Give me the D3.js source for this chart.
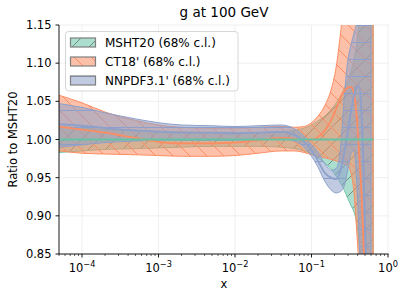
<!DOCTYPE html>
<html>
<head>
<meta charset="utf-8">
<script src="https://cdn.jsdelivr.net/npm/d3@7/dist/d3.min.js"></script>
<style>
	body { margin: 0; background: #fff; }
	svg { display: block; font-family: "DejaVu Sans", sans-serif; }
</style>
</head>
<body>
<div id="chart"></div>
<script>
// x grid shared by all three sets (momentum fraction)
const xs = [5e-5, 1e-4, 2e-4, 5e-4, 1e-3, 2e-3, 5e-3, 1e-2, 2e-2, 4e-2, 6e-2, 8e-2,
	0.10, 0.12, 0.15, 0.18, 0.21, 0.24, 0.27, 0.30, 0.33, 0.36, 0.39, 0.42, 0.45, 0.48, 0.51, 0.55, 0.60, 0.64];

// MSHT20 (reference, so central is 1)
const mshtMid = [1, 1, 1, 1, 1, 1, 1, 1, 1, 1, 1, 1, 1, 1, 1, 1, 1, 1, 1, 1, 1, 1, 1, 1, 1, 1, 1, 1, 1, 1];
const mshtLow = [0.983, 0.985, 0.987, 0.988, 0.989, 0.990, 0.991, 0.991, 0.991, 0.990, 0.988, 0.985,
	0.981, 0.976, 0.969, 0.961, 0.952, 0.943, 0.933, 0.922, 0.913, 0.905, 0.890, 0.860, 0.81, 0.76, 0.70, 0.62, 0.50, 0.40];
const mshtHigh = [1.017, 1.015, 1.013, 1.012, 1.011, 1.010, 1.009, 1.009, 1.009, 1.010, 1.012, 1.015,
	1.019, 1.024, 1.031, 1.039, 1.048, 1.057, 1.067, 1.078, 1.090, 1.105, 1.125, 1.155, 1.20, 1.25, 1.30, 1.40, 1.50, 1.60];

// CT18'
const ctMid = [1.017, 1.013, 1.009, 1.002, 0.997, 0.995, 0.995, 0.996, 0.999, 1.002, 1.001, 0.999,
	0.999, 1.003, 1.012, 1.025, 1.040, 1.055, 1.064, 1.068, 1.069, 1.060, 1.030, 0.980, 0.930, 0.860, 0.800, 0.720, 0.620, 0.550];
const ctLow = [0.985, 0.982, 0.981, 0.980, 0.979, 0.978, 0.978, 0.979, 0.982, 0.985, 0.985, 0.983,
	0.980, 0.978, 0.976, 0.974, 0.972, 0.970, 0.968, 0.965, 0.955, 0.930, 0.880, 0.830, 0.78, 0.72, 0.66, 0.58, 0.48, 0.40];
const ctHigh = [1.058, 1.048, 1.036, 1.025, 1.019, 1.016, 1.015, 1.015, 1.016, 1.017, 1.016, 1.017,
	1.022, 1.030, 1.045, 1.065, 1.095, 1.140, 1.190, 1.250, 1.320, 1.400, 1.500, 1.600, 1.700, 1.800, 1.900, 2.000, 2.100, 2.200];

// NNPDF3.1' (stops a bit earlier)
const nnMid = [1.020, 1.018, 1.015, 1.012, 1.010, 1.009, 1.009, 1.008, 1.009, 1.010, 1.006, 0.997,
	0.986, 0.973, 0.956, 0.950, 0.948, 0.960, 0.985, 1.012, 1.038, 1.058, 1.068, 1.070, 1.035, 0.960, 0.860, 0.740, 0.620, null];
const nnLow = [0.990, 0.993, 0.996, 0.998, 0.999, 0.999, 0.999, 0.999, 1.000, 1.001, 0.998, 0.990,
	0.978, 0.965, 0.945, 0.934, 0.930, 0.932, 0.940, 0.962, 0.982, 0.985, 0.945, 0.870, 0.780, 0.680, 0.580, 0.480, 0.400, null];
const nnHigh = [1.047, 1.042, 1.035, 1.027, 1.022, 1.019, 1.018, 1.017, 1.018, 1.019, 1.014, 1.004,
	0.993, 0.984, 0.968, 0.960, 0.962, 0.990, 1.060, 1.105, 1.125, 1.140, 1.155, 1.240, 1.320, 1.400, 1.480, 1.560, 1.650, null];

const yTicks = [0.85, 0.90, 0.95, 1.00, 1.05, 1.10, 1.15];
const xTicks = [1e-4, 1e-3, 1e-2, 1e-1, 1];
const xTickExp = ['\u22124', '\u22123', '\u22122', '\u22121', '0'];
const legendLabels = ["MSHT20 (68% c.l.)", "CT18' (68% c.l.)", "NNPDF3.1' (68% c.l.)"];

const width = 407,
	height = 299,
	margin = {top: 25, right: 18, bottom: 45, left: 59},
	innerW = width - margin.left - margin.right,
	innerH = height - margin.top - margin.bottom;

const x = d3.scaleLog().domain([5e-5, 1]).range([margin.left, margin.left + innerW - 1]);
const y = d3.scaleLinear().domain([0.85, 1.15]).range([margin.top + innerH, margin.top]);

const sets = [
	{name: 'msht', color: '#66c2a5', hatchColor: 'rgba(95,115,100,0.75)', edge: 'rgba(102,194,165,0.9)', low: mshtLow, mid: mshtMid, high: mshtHigh, hatch: '/'},
	{name: 'ct', color: '#fc8d62', hatchColor: '#fc8d62', edge: '#fc8d62', low: ctLow, mid: ctMid, high: ctHigh, hatch: '\\'},
	{name: 'nn', color: '#8da0cb', hatchColor: '#8da0cb', edge: '#8da0cb', low: nnLow, mid: nnMid, high: nnHigh, hatch: '-'}
];

const svg = d3.select('#chart').append('svg')
	.attr('width', width)
	.attr('height', height);

const defs = svg.append('defs');

defs.append('clipPath').attr('id', 'plot-clip')
	.append('rect')
	.attr('x', margin.left).attr('y', margin.top)
	.attr('width', innerW).attr('height', innerH);

// hatch patterns, roughly matplotlib's density
const hs = 17;
const hatchPaths = {
	'/': `M0,${hs} L${hs},0 M-4,4 L4,-4 M${hs - 4},${hs + 4} L${hs + 4},${hs - 4}`,
	'\\': `M0,0 L${hs},${hs} M-4,${hs - 4} L4,${hs + 4} M${hs - 4},-4 L${hs + 4},4`,
	'-': `M0,${hs / 2} L${hs},${hs / 2}`
};
sets.forEach(s => {
	defs.append('pattern')
		.attr('id', 'hatch-' + s.name)
		.attr('patternUnits', 'userSpaceOnUse')
		.attr('width', hs).attr('height', hs)
		.append('path')
		.attr('d', hatchPaths[s.hatch])
		.style('stroke', s.hatchColor)
		.style('stroke-width', 1)
		.style('fill', 'none');
});

// grid
const grid = svg.append('g').attr('class', 'grid');
grid.selectAll('.hgrid')
	.data(yTicks)
	.enter().append('line')
	.attr('x1', margin.left).attr('x2', margin.left + innerW)
	.attr('y1', d => y(d)).attr('y2', d => y(d))
	.style('stroke', '#ebebeb').style('stroke-width', 0.8);
grid.selectAll('.vgrid')
	.data(xTicks)
	.enter().append('line')
	.attr('x1', d => x(d)).attr('x2', d => x(d))
	.attr('y1', margin.top).attr('y2', margin.top + innerH)
	.style('stroke', '#ebebeb').style('stroke-width', 0.8);

// bands
const plot = svg.append('g').attr('clip-path', 'url(#plot-clip)');

sets.forEach(s => {
	const rows = xs.map((xv, i) => ({x: xv, lo: s.low[i], hi: s.high[i]}));
	const area = d3.area()
		.defined(d => d.lo != null)
		.x(d => x(d.x))
		.y0(d => y(d.lo))
		.y1(d => y(d.hi))
		.curve(d3.curveMonotoneX);
	const g = plot.append('g').attr('class', 'band-' + s.name);
	g.append('path')
		.datum(rows)
		.attr('d', area)
		.style('fill', s.color)
		.style('fill-opacity', 0.55);
	g.append('path')
		.datum(rows)
		.attr('d', area)
		.style('fill', `url(#hatch-${s.name})`);
	g.append('path')
		.datum(rows)
		.attr('d', area)
		.style('fill', 'none')
		.style('stroke', s.edge)
		.style('stroke-width', 1);
});

// central lines, reference on top
[sets[1], sets[2], sets[0]].forEach(s => {
	const rows = xs.map((xv, i) => ({x: xv, v: s.mid[i]}));
	plot.append('path')
		.datum(rows)
		.attr('d', d3.line()
			.defined(d => d.v != null)
			.x(d => x(d.x))
			.y(d => y(d.v))
			.curve(d3.curveMonotoneX))
		.style('fill', 'none')
		.style('stroke', s.color)
		.style('stroke-width', 1.8);
});

// spines
const axes = svg.append('g').attr('class', 'axes');
axes.append('line')
	.attr('x1', margin.left).attr('x2', margin.left)
	.attr('y1', margin.top).attr('y2', margin.top + innerH)
	.style('stroke', '#000').style('stroke-width', 0.9);
axes.append('line')
	.attr('x1', margin.left).attr('x2', x(1) + 0.5)
	.attr('y1', margin.top + innerH).attr('y2', margin.top + innerH)
	.style('stroke', '#000').style('stroke-width', 0.9);

// y ticks
axes.selectAll('.ytick')
	.data(yTicks)
	.enter().append('line')
	.attr('x1', margin.left - 3.5).attr('x2', margin.left)
	.attr('y1', d => y(d)).attr('y2', d => y(d))
	.style('stroke', '#000').style('stroke-width', 0.9);
axes.selectAll('.ylabel')
	.data(yTicks)
	.enter().append('text')
	.attr('x', margin.left - 7.5)
	.attr('y', d => y(d) + 4)
	.attr('text-anchor', 'end')
	.style('font-size', '11.5px')
	.text(d => d.toFixed(2));

// x ticks, major and minor
const minor = [];
[1e-5, 1e-4, 1e-3, 1e-2, 1e-1].forEach(dec => {
	for (let k = 2; k <= 9; k++) {
		const v = dec * k;
		if (v >= 5e-5 && v < 1) minor.push(v);
	}
});
axes.selectAll('.xminor')
	.data(minor)
	.enter().append('line')
	.attr('x1', d => x(d)).attr('x2', d => x(d))
	.attr('y1', margin.top + innerH).attr('y2', margin.top + innerH + 2)
	.style('stroke', '#000').style('stroke-width', 0.6);
axes.selectAll('.xmajor')
	.data(xTicks)
	.enter().append('line')
	.attr('x1', d => x(d)).attr('x2', d => x(d))
	.attr('y1', margin.top + innerH).attr('y2', margin.top + innerH + 3.5)
	.style('stroke', '#000').style('stroke-width', 0.9);

const xl = axes.selectAll('.xlabel')
	.data(xTicks)
	.enter().append('text')
	.attr('x', d => x(d))
	.attr('y', margin.top + innerH + 18)
	.attr('text-anchor', 'middle')
	.style('font-size', '11.5px');
xl.append('tspan').text('10');
xl.append('tspan')
	.attr('dy', -5)
	.style('font-size', '8.2px')
	.text((d, i) => xTickExp[i]);

// legend
const legend = svg.append('g').attr('class', 'legend');
legend.append('rect')
	.attr('x', 65.5).attr('y', 31.5)
	.attr('width', 172.5).attr('height', 59.5)
	.attr('rx', 3)
	.style('fill', '#fff').style('fill-opacity', 0.8)
	.style('stroke', '#cccccc').style('stroke-width', 0.8);

sets.forEach((s, i) => {
	const ry = 38 + i * 19;
	legend.append('rect')
		.attr('x', 70.5).attr('y', ry)
		.attr('width', 25).attr('height', 9)
		.style('fill', s.color).style('fill-opacity', 0.55);
	legend.append('rect')
		.attr('x', 70.5).attr('y', ry)
		.attr('width', 25).attr('height', 9)
		.style('fill', `url(#hatch-${s.name})`)
		.style('stroke', '#7f7f7f').style('stroke-width', 1.2);
	legend.append('text')
		.attr('x', 105).attr('y', ry + 8.8)
		.style('font-size', '12px')
		.text(legendLabels[i]);
});

// titles
svg.append('text')
	.attr('x', x(5e-5) + innerW / 2).attr('y', 17)
	.attr('text-anchor', 'middle')
	.style('font-size', '13.5px')
	.text('g at 100 GeV');

svg.append('text')
	.attr('x', margin.left + innerW / 2).attr('y', 288)
	.attr('text-anchor', 'middle')
	.style('font-size', '11.5px')
	.text('x');

svg.append('text')
	.attr('transform', `translate(17, ${margin.top + innerH / 2}) rotate(-90)`)
	.attr('text-anchor', 'middle')
	.style('font-size', '11.5px')
	.text('Ratio to MSHT20');
</script>
</body>
</html>
